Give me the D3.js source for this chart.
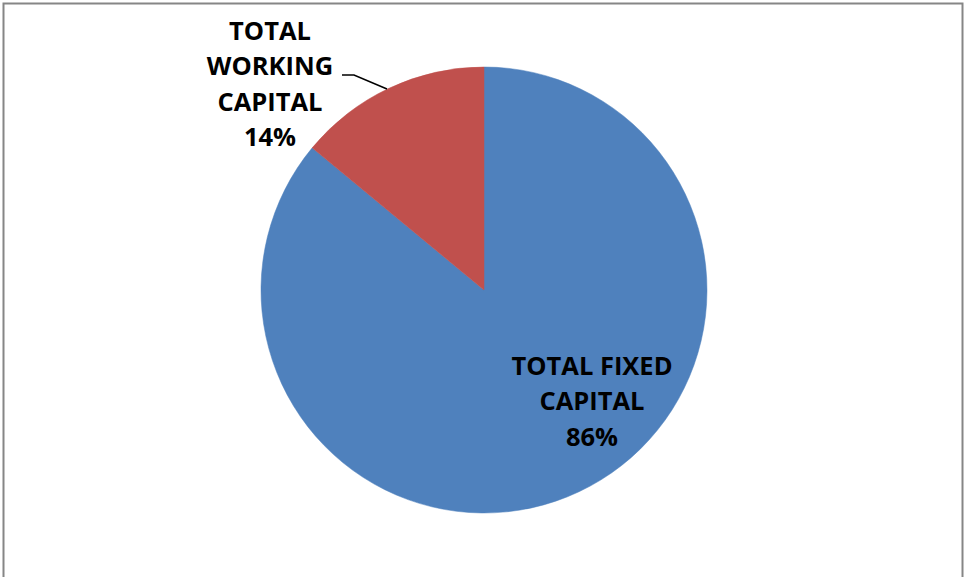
<!DOCTYPE html>
<html><head><meta charset="utf-8">
<script src="https://cdn.jsdelivr.net/npm/d3@7"></script>
<style>html,body{margin:0;padding:0;background:#fff;overflow:hidden}</style>
</head><body>
<svg id="c" width="964" height="577"></svg>
<script>
const categories = ["TOTAL FIXED CAPITAL", "TOTAL WORKING CAPITAL"];
const values = [86, 14];
const colors = ["#4F81BD", "#C0504D"];
const labelLines = [["TOTAL FIXED", "CAPITAL", "86%"], ["TOTAL", "WORKING", "CAPITAL", "14%"]];

const svg = d3.select("#c");
svg.append("rect").attr("x", 3.5).attr("y", 3.5).attr("width", 959).attr("height", 600)
  .attr("fill", "#fff").attr("stroke", "#868686").attr("stroke-width", 2);

const cx = 484, cy = 290, r = 223;
const pie = d3.pie().sort(null).value(d => d)(values);
const arc = d3.arc().innerRadius(0).outerRadius(r);
const g = svg.append("g").attr("transform", `translate(${cx},${cy})`);
g.selectAll("path").data(pie).join("path")
  .attr("d", arc).attr("fill", (d, i) => colors[i])
  .attr("stroke", (d, i) => colors[i]).attr("stroke-width", 0.5);

// labels
const lab = [{x: 592, y: 375}, {x: 270, y: 40}];
const fs = 25.5, lh = 35.3;
lab.forEach((p, i) => {
  const t = svg.append("text").attr("text-anchor", "middle")
    .attr("font-family", "'Open Sans', sans-serif").attr("font-weight", "bold")
    .attr("font-size", fs).attr("fill", "#000");
  labelLines[i].forEach((s, j) => {
    t.append("tspan").attr("x", p.x).attr("y", p.y + j * lh).text(s);
  });
});
// leader line for the working-capital label
svg.append("path")
  .attr("d", d3.line()([[342, 75], [354, 75], [387, 89]]))
  .attr("fill", "none").attr("stroke", "#000").attr("stroke-width", 1.6);
</script>
</body></html>
